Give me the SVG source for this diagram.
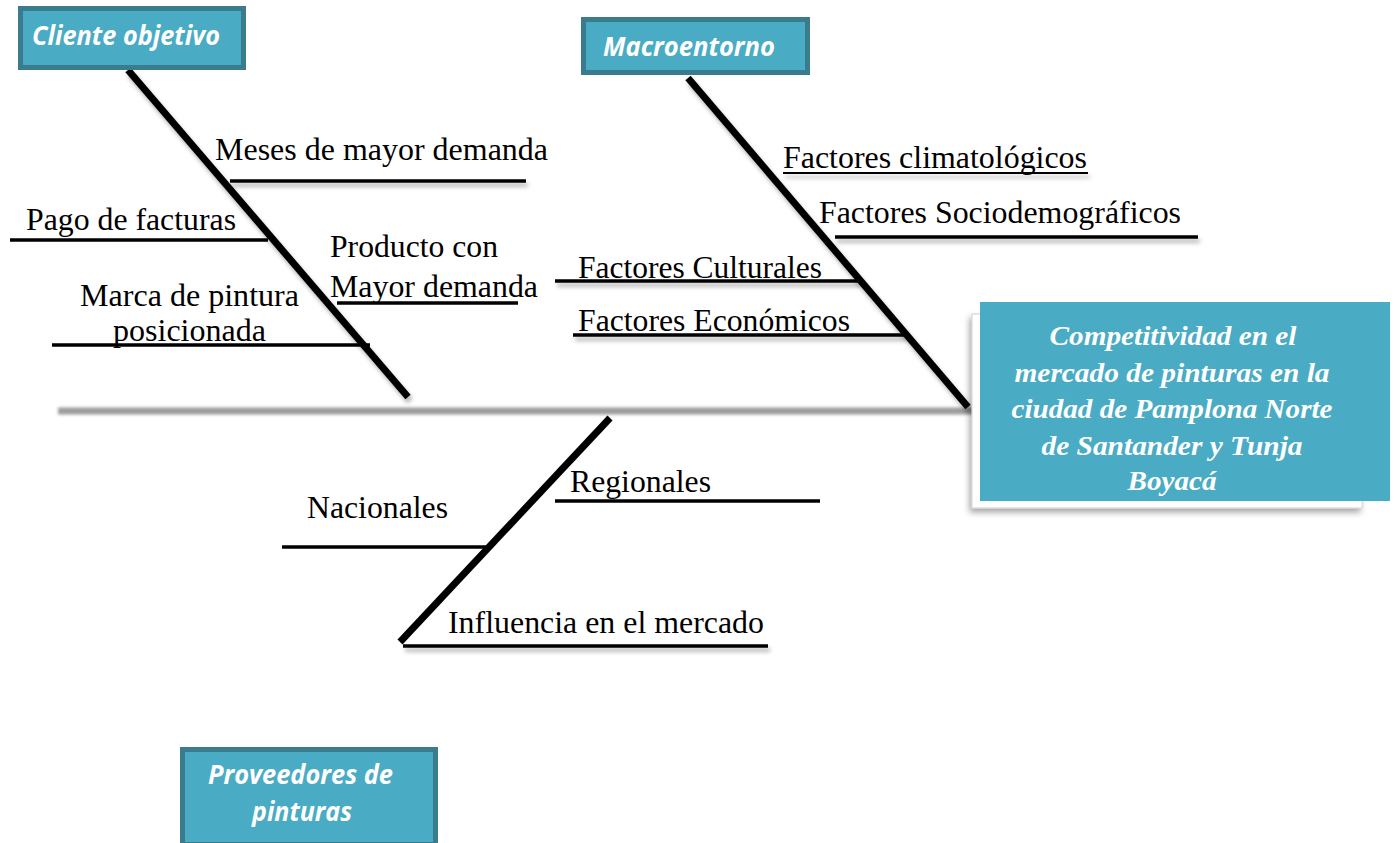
<svg xmlns="http://www.w3.org/2000/svg" width="1396" height="843" viewBox="0 0 1396 843">
<defs>
<style>
.lbl{font-family:"Liberation Serif","Times New Roman",serif;font-size:32px;fill:#000}
.cat{font-family:"Open Sans","Liberation Sans",sans-serif;font-weight:bold;font-style:italic;font-size:26px;fill:#fff}
.eff{font-family:"Liberation Serif","Times New Roman",serif;font-weight:bold;font-style:italic;font-size:27px;fill:#fff;text-anchor:middle}
.catbox{fill:#4aabc4;stroke:#3a7b8e;stroke-width:5}
.bone{stroke:#000;stroke-width:7;fill:none}
.sub{stroke:#000;stroke-width:3.5;fill:none}
</style>
<filter id="sh" filterUnits="userSpaceOnUse" x="0" y="0" width="1396" height="843">
<feDropShadow dx="2" dy="4" stdDeviation="2" flood-color="#000" flood-opacity="0.3"/>
</filter>
<filter id="blur" filterUnits="userSpaceOnUse" x="0" y="0" width="1396" height="843">
<feGaussianBlur stdDeviation="1.6"/>
</filter>
<filter id="boxsh" filterUnits="userSpaceOnUse" x="0" y="0" width="1396" height="843">
<feDropShadow dx="-2" dy="4" stdDeviation="3" flood-color="#000" flood-opacity="0.35"/>
</filter>
</defs>
<rect width="1396" height="843" fill="#fff"/>

<g id="connectors">
<line x1="58" y1="411" x2="975" y2="411" stroke="#9c9c9c" stroke-width="7" filter="url(#blur)"/>
<rect x="977" y="402" width="3" height="9" fill="#888"/>
<line class="bone" x1="128" y1="70" x2="408" y2="397" filter="url(#sh)"/>
<line class="bone" x1="688" y1="78" x2="968" y2="407" filter="url(#sh)"/>
<line class="bone" x1="610" y1="418" x2="400" y2="642"/>
</g>

<g id="node-cliente">
<rect class="catbox" x="20.5" y="8.5" width="223" height="59"/>
<text class="cat" x="32" y="45" textLength="188" lengthAdjust="spacingAndGlyphs">Cliente objetivo</text>
</g>

<g id="node-macroentorno">
<rect class="catbox" x="583.5" y="19.5" width="224" height="53"/>
<text class="cat" x="603" y="56" textLength="172" lengthAdjust="spacingAndGlyphs">Macroentorno</text>
</g>

<g id="node-proveedores">
<rect class="catbox" x="182.5" y="749.5" width="253" height="95"/>
<text class="cat" x="208" y="784" textLength="185" lengthAdjust="spacingAndGlyphs">Proveedores de</text>
<text class="cat" x="252" y="821" textLength="100" lengthAdjust="spacingAndGlyphs">pinturas</text>
</g>

<g id="node-efecto">
<rect x="972" y="314" width="390" height="194" fill="#fff" stroke="#d0d0d0" stroke-width="1" filter="url(#boxsh)"/>
<rect x="980" y="302" width="410" height="199" fill="#4aabc4"/>
<text class="eff" x="1173" y="345" textLength="247" lengthAdjust="spacingAndGlyphs">Competitividad en el</text>
<text class="eff" x="1172" y="382" textLength="315" lengthAdjust="spacingAndGlyphs">mercado de pinturas en la</text>
<text class="eff" x="1172" y="418" textLength="321" lengthAdjust="spacingAndGlyphs">ciudad de Pamplona Norte</text>
<text class="eff" x="1172" y="455" textLength="261" lengthAdjust="spacingAndGlyphs">de Santander y Tunja</text>
<text class="eff" x="1172" y="490" textLength="89" lengthAdjust="spacingAndGlyphs">Boyacá</text>
</g>

<g id="node-meses">
<line class="sub" x1="230" y1="181" x2="526" y2="181" filter="url(#sh)"/>
<text class="lbl" x="215" y="160" textLength="333" lengthAdjust="spacingAndGlyphs">Meses de mayor demanda</text>
</g>
<g id="node-pago">
<line class="sub" x1="10" y1="240" x2="268" y2="240"/>
<text class="lbl" x="26" y="230" textLength="210" lengthAdjust="spacingAndGlyphs">Pago de facturas</text>
</g>
<g id="node-producto">
<line class="sub" x1="337" y1="303" x2="518" y2="303"/>
<text class="lbl" x="330" y="257" textLength="168" lengthAdjust="spacingAndGlyphs">Producto con</text>
<text class="lbl" x="330" y="297" textLength="208" lengthAdjust="spacingAndGlyphs">Mayor demanda</text>
</g>
<g id="node-marca">
<line class="sub" x1="52" y1="345" x2="370" y2="345"/>
<text class="lbl" x="80" y="306" textLength="219" lengthAdjust="spacingAndGlyphs">Marca de pintura</text>
<text class="lbl" x="113" y="341" textLength="153" lengthAdjust="spacingAndGlyphs">posicionada</text>
</g>
<g id="node-clima">
<line x1="783" y1="173" x2="1088" y2="173" stroke="#000" stroke-width="1.8" filter="url(#sh)"/>
<text class="lbl" x="783" y="168" textLength="304" lengthAdjust="spacingAndGlyphs">Factores climatológicos</text>
</g>
<g id="node-socio">
<line class="sub" x1="835" y1="237" x2="1198" y2="237" filter="url(#sh)"/>
<text class="lbl" x="819" y="223" textLength="362" lengthAdjust="spacingAndGlyphs">Factores Sociodemográficos</text>
</g>
<g id="node-culturales">
<line class="sub" x1="555" y1="281" x2="860" y2="281" filter="url(#sh)"/>
<text class="lbl" x="578" y="278" textLength="244" lengthAdjust="spacingAndGlyphs">Factores Culturales</text>
</g>
<g id="node-economicos">
<line class="sub" x1="573" y1="335" x2="906" y2="335" filter="url(#sh)"/>
<text class="lbl" x="578" y="331" textLength="272" lengthAdjust="spacingAndGlyphs">Factores Económicos</text>
</g>
<g id="node-regionales">
<line class="sub" x1="555" y1="501" x2="820" y2="501"/>
<text class="lbl" x="570" y="492" textLength="141" lengthAdjust="spacingAndGlyphs">Regionales</text>
</g>
<g id="node-nacionales">
<line class="sub" x1="282" y1="547" x2="488" y2="547"/>
<text class="lbl" x="307" y="518" textLength="141" lengthAdjust="spacingAndGlyphs">Nacionales</text>
</g>
<g id="node-influencia">
<line class="sub" x1="403" y1="646" x2="768" y2="646" filter="url(#sh)"/>
<text class="lbl" x="448" y="633" textLength="316" lengthAdjust="spacingAndGlyphs">Influencia en el mercado</text>
</g>
</svg>
